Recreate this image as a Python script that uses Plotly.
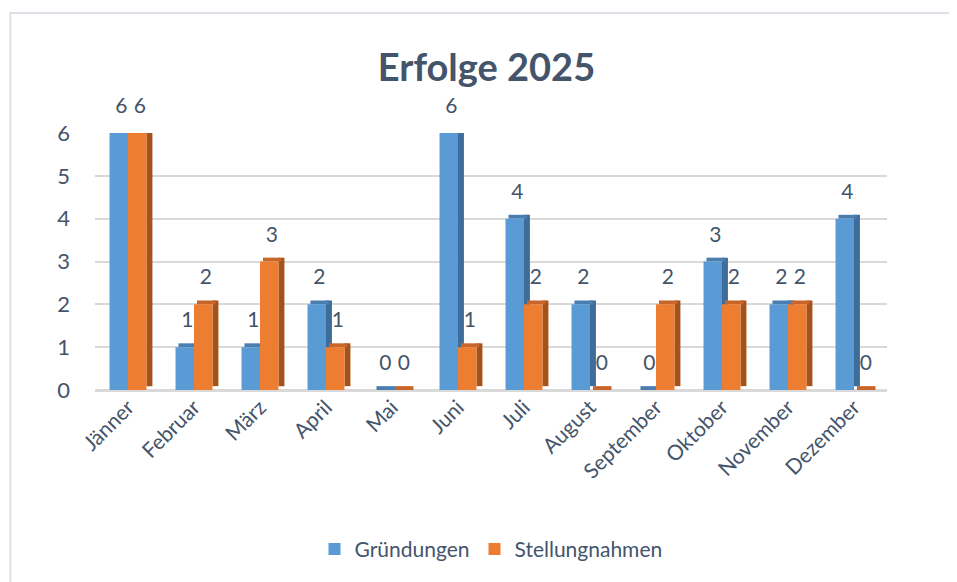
import plotly.graph_objects as go

months = ["Jänner", "Februar", "März", "April", "Mai", "Juni", "Juli",
          "August", "September", "Oktober", "November", "Dezember"]
gruendungen = [6, 1, 1, 2, 0, 6, 4, 2, 0, 3, 2, 4]
stellungnahmen = [6, 2, 3, 1, 0, 1, 2, 0, 2, 2, 2, 0]
y_ticks = [0, 1, 2, 3, 4, 5, 6]

FONT = "Lato, 'Open Sans', sans-serif"
TXT = "#44546A"
BW = 0.28      # bar width (category units)
SW = 0.09      # side depth (category units)
SH = 0.09      # vertical depth (value units)

idx = list(range(len(months)))

series = [
    ("Gründungen", gruendungen, -BW, "#5B9BD5", "#3E6D9C", "#4A7DB0"),
    ("Stellungnahmen", stellungnahmen, 0.0, "#ED7D31", "#A5521A", "#C8652A"),
]

fig = go.Figure()
for name, vals, off, c_front, c_side, c_top in series:
    # side face
    fig.add_trace(go.Bar(x=idx, y=vals, base=[SH] * len(vals), offset=off + BW, width=SW,
                         marker=dict(color=c_side, line=dict(width=0)), cliponaxis=False,
                         showlegend=False, hoverinfo="skip"))
    # top face
    fig.add_trace(go.Bar(x=idx, y=[SH] * len(vals), base=vals, offset=off + SW / 2, width=BW,
                         marker=dict(color=c_top, line=dict(width=0)), cliponaxis=False,
                         showlegend=False, hoverinfo="skip"))
    # front face
    fig.add_trace(go.Bar(x=idx, y=vals, offset=off, width=BW, name=name, cliponaxis=False,
                         marker=dict(color=c_front, line=dict(width=0))))

# data labels
for name, vals, off, c_front, c_side, c_top in series:
    fig.add_trace(go.Scatter(x=[i + off + BW / 2 + 0.04 for i in idx], y=vals,
                             mode="markers+text", text=[str(v) for v in vals],
                             textposition="top center",
                             marker=dict(size=22, opacity=0),
                             textfont=dict(family=FONT, size=21, color=TXT),
                             showlegend=False, hoverinfo="skip", cliponaxis=False))

fig.update_layout(
    width=957, height=582,
    margin=dict(l=87, r=78, t=125, b=200, autoexpand=False),
    paper_bgcolor="white", plot_bgcolor="white",
    barmode="overlay",
    title=dict(text="<b>Erfolge 2025</b>", x=0.5, xanchor="center", y=0.897, yanchor="middle",
               font=dict(family=FONT, size=38, color=TXT)),
    font=dict(family=FONT, color=TXT),
    legend=dict(orientation="h", x=0.5, xanchor="center", y=-0.62, yanchor="middle",
                font=dict(family=FONT, size=21, color=TXT), itemwidth=30,
                traceorder="normal"),
    showlegend=True,
    shapes=[dict(type="rect", xref="paper", yref="paper",
                 x0=-0.107, x1=1.2, y0=-0.8, y1=1.467,
                 line=dict(color="#DCE1E8", width=2), fillcolor="rgba(0,0,0,0)", layer="below")],
)
fig.update_xaxes(range=[-0.5, 11.5], tickmode="array", tickvals=idx, ticktext=months,
                 tickangle=-45, tickfont=dict(family=FONT, size=21, color=TXT),
                 showgrid=False, zeroline=False, showline=False, ticks="")
fig.update_yaxes(range=[0, 6], tickmode="array", tickvals=y_ticks,
                 tickfont=dict(family=FONT, size=22, color=TXT),
                 showgrid=True, gridcolor="#D9D9D9", gridwidth=2,
                 zeroline=True, zerolinecolor="#D9D9D9", zerolinewidth=3,
                 showline=False, ticks="", ticklabelstandoff=24)

fig.write_html("out.html")
